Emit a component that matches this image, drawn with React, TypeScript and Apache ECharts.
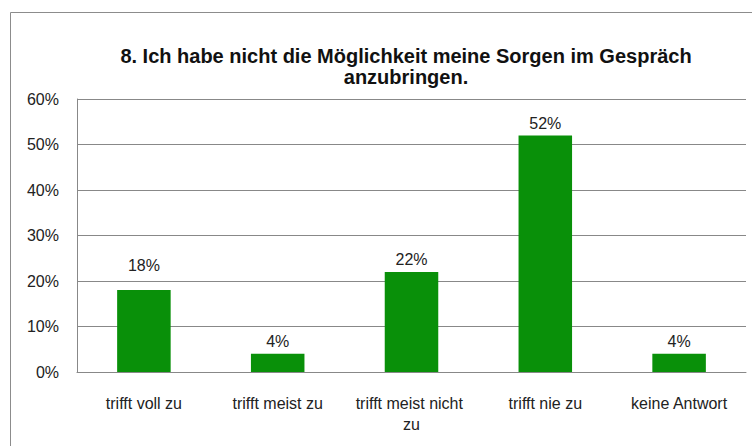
import React, { useEffect, useRef } from "react";
import * as echarts from "echarts";

const categories = ["trifft voll zu", "trifft meist zu", "trifft meist nicht zu", "trifft nie zu", "keine Antwort"];
const values = [18, 4, 22, 52, 4];
const titleText = "8. Ich habe nicht die Möglichkeit meine Sorgen im Gespräch\nanzubringen.";

export default function App() {
  const ref = useRef<HTMLDivElement>(null);
  useEffect(() => {
    if (!ref.current) return;
    const chart = echarts.init(ref.current, null, { renderer: "svg" });
    const font = "'Liberation Sans', Arial, sans-serif";
    const data = values.map((v, i) =>
      i === 0 ? { value: v, label: { distance: 17 } } : { value: v }
    );
    chart.setOption({
      animation: false,
      backgroundColor: "#ffffff",
      title: {
        text: titleText,
        left: 401,
        top: 40,
        textAlign: "center",
        textStyle: { fontFamily: font, fontSize: 20, fontWeight: "bold", color: "#111", lineHeight: 21 },
      },
      graphic: [
        {
          type: "rect",
          shape: { x: 10.5, y: 12.5, width: 800, height: 500 },
          style: { fill: "none", stroke: "#8c8c8c", lineWidth: 1 },
          silent: true,
        },
      ],
      grid: { left: 77, top: 99, right: 6, bottom: 74 },
      xAxis: {
        type: "category",
        data: categories,
        axisLine: { show: true, lineStyle: { color: "#888", width: 1 } },
        axisTick: { show: false },
        axisLabel: {
          fontFamily: font,
          fontSize: 16,
          color: "#222",
          margin: 21,
          width: 118,
          overflow: "break",
          lineHeight: 21,
          interval: 0,
        },
      },
      yAxis: {
        type: "value",
        min: 0,
        max: 60,
        interval: 10,
        axisLine: { show: true, lineStyle: { color: "#888", width: 1 } },
        axisTick: { show: false },
        splitLine: { show: true, lineStyle: { color: "#888", width: 1 } },
        axisLabel: {
          fontFamily: font,
          fontSize: 16,
          color: "#222",
          margin: 18,
          formatter: "{value}%",
        },
      },
      series: [
        {
          type: "bar",
          data,
          barWidth: "40%",
          itemStyle: { color: "#099009" },
          label: {
            show: true,
            position: "top",
            distance: 4,
            formatter: "{c}%",
            fontFamily: font,
            fontSize: 16,
            color: "#222",
          },
        },
      ],
    });
    return () => chart.dispose();
  }, []);
  return (
    <div
      ref={ref}
      style={{ position: "fixed", left: 0, top: 0, width: 752, height: 446, background: "#fff" }}
    />
  );
}
